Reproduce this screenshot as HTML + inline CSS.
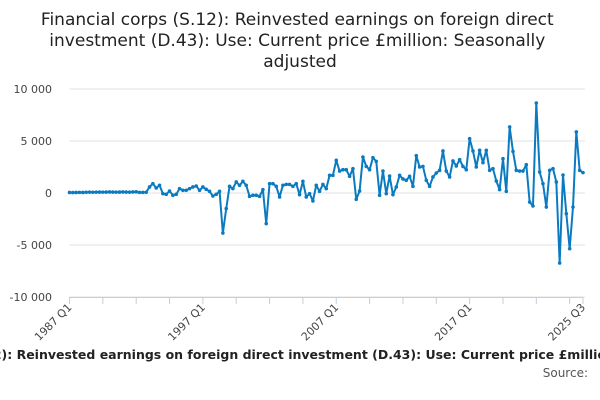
<!DOCTYPE html>
<html><head><meta charset="utf-8"><style>
html,body{margin:0;padding:0;background:#fff;width:600px;height:400px;overflow:hidden}
svg{display:block;font-family:"DejaVu Sans","Liberation Sans",sans-serif}
</style></head><body>
<svg id="chart" width="600" height="400">
<text x="300" y="25" text-anchor="middle" font-size="17" fill="#222">
<tspan x="300" y="25">Financial corps (S.12): Reinvested earnings on foreign direct</tspan>
<tspan x="300" y="46">investment (D.43): Use: Current price £million: Seasonally</tspan>
<tspan x="300" y="67">adjusted</tspan></text>
<g id="grid"></g><g id="xaxis"></g><g id="series"></g>
<text x="310" y="359" text-anchor="middle" font-size="12.5" font-weight="bold" fill="#222">Financial corps (S.12): Reinvested earnings on foreign direct investment (D.43): Use: Current price £million: Seasonally adjusted</text>
<text x="588" y="377" text-anchor="end" font-size="12" fill="#555">Source:</text>
</svg>
<script>
const yTicks=[10000,5000,0,-5000,-10000];
const yTickLabels=["10 000","5 000","0","-5 000","-10 000"];
const xLabelIdx=[0,40,80,120,154];
const xLabels=["1987 Q1","1997 Q1","2007 Q1","2017 Q1","2025 Q3"];
const values=[50,40,50,60,50,70,80,70,80,90,80,90,100,90,80,90,100,90,80,100,110,60,60,70,
580,900,480,740,-60,-130,190,-220,-130,420,260,260,420,580,670,260,580,350,160,-290,-130,160,-3850,-1500,640,420,1060,740,1120,740,-320,-220,-220,-320,320,-2950,900,900,640,-380,740,830,830,640,900,-160,1120,-380,-60,-770,740,160,830,420,1700,1700,3140,2110,2240,2240,1600,2340,-610,190,3460,2560,2240,3400,3040,-220,2110,-60,1630,-160,580,1700,1350,1220,1600,640,3590,2500,2560,1220,640,1540,1920,2180,4040,2110,1540,3080,2600,3200,2560,2240,5220,4040,2500,4100,2920,4100,2180,2340,1150,320,3300,160,6350,4000,2180,2110,2110,2720,-870,-1250,8650,2020,900,-1350,2180,2340,1060,-6730,1730,-1990,-5350,-1350,5870,2180,1960];
const X0=69.5,X1=583,Y0=193,PX=10.4/1000;
const xs=i=>X0+(X1-X0)*i/(values.length-1);
const ys=v=>Y0-v*PX;
const NS="http://www.w3.org/2000/svg";
function mk(t,a,p){const e=document.createElementNS(NS,t);for(const k in a)e.setAttribute(k,a[k]);p.appendChild(e);return e;}
const grid=document.getElementById('grid');
yTicks.forEach((v,i)=>{
 const l=mk('line',{x1:X0,x2:X1+2,y1:ys(v),y2:ys(v),stroke:'#e0e0e0','stroke-width':1},grid);
 
 
 const t=mk('text',{x:52,y:ys(v)+4,'text-anchor':'end','font-size':11,fill:'#444'},grid);
 t.textContent=yTickLabels[i];
 
 
});
const xa=document.getElementById('xaxis');
const ax=mk('line',{x1:X0,x2:X1,y1:297.5,y2:297.5,stroke:'#c0d0e0'},xa);


for(let i=0;i<values.length;i+=10){const tk=mk('line',{x1:xs(i),x2:xs(i),y1:297,y2:304,stroke:'#c0d0e0'},xa);
 
 }
const last=mk('line',{x1:X1,x2:X1,y1:297,y2:304,stroke:'#c0d0e0'},xa);


xLabelIdx.forEach((idx,k)=>{
 const x=xs(idx)+3,y=308;
 const t=mk('text',{x:x,y:y,'text-anchor':'end','font-size':11,fill:'#444',transform:`rotate(-45 ${x} ${y})`},xa);
 t.textContent=xLabels[k];
 
 
});
const s=document.getElementById('series');
const pth=mk('path',{d:values.map((v,i)=>(i?'L':'M')+xs(i).toFixed(2)+' '+ys(v).toFixed(2)).join(''),fill:'none',stroke:'#0b7bc1','stroke-width':2,'stroke-linejoin':'round'},s);


values.forEach((v,i)=>{const c=mk('circle',{cx:xs(i),cy:ys(v),r:1.8,fill:'#0b7bc1'},s);
 
 });
</script>
</body></html>
